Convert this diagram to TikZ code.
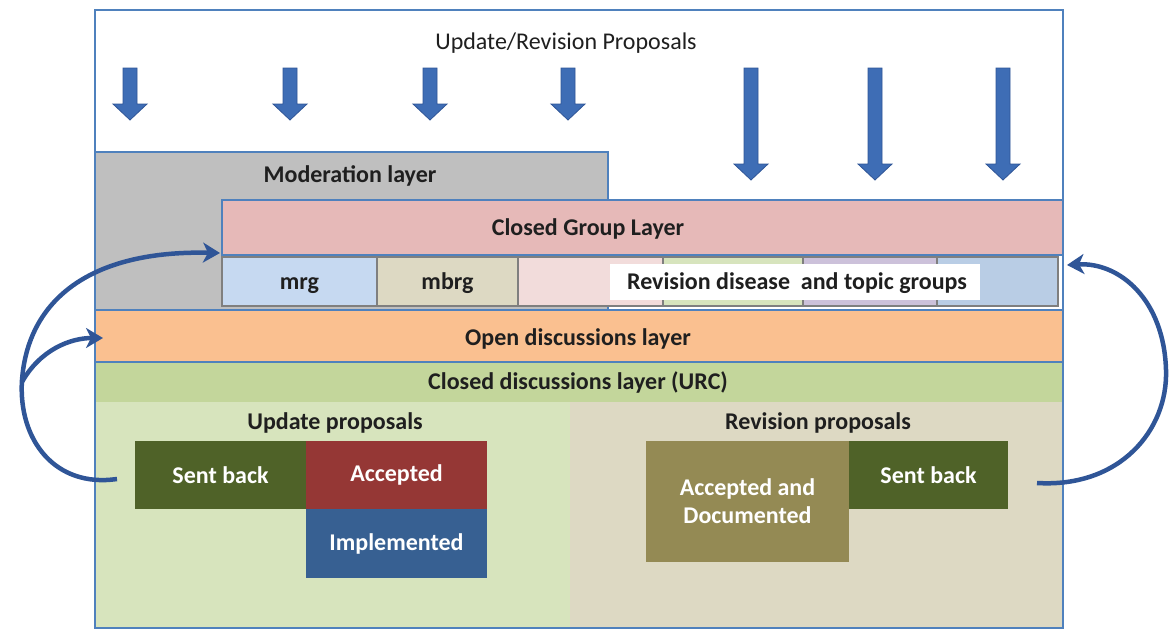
\documentclass[tikz,border=0pt]{standalone}
\usepackage{fontspec}
\setmainfont{Carlito}
\usetikzlibrary{arrows.meta}
\definecolor{bordblue}{HTML}{4F81BD}
\definecolor{arrblue}{HTML}{3E6DB5}
\definecolor{arrdark}{HTML}{2F5597}
\definecolor{modgray}{HTML}{BFBFBF}
\definecolor{cglpink}{HTML}{E6B9B8}
\definecolor{cmrg}{HTML}{C6D9F1}
\definecolor{cmbrg}{HTML}{DDD9C3}
\definecolor{cpinkl}{HTML}{F2DCDB}
\definecolor{cgreenl}{HTML}{D7E4BD}
\definecolor{clav}{HTML}{CCC1DA}
\definecolor{cbluel}{HTML}{B9CDE5}
\definecolor{openor}{HTML}{FAC090}
\definecolor{closedgr}{HTML}{C3D69B}
\definecolor{leftlow}{HTML}{D7E4BD}
\definecolor{rightlow}{HTML}{DDD9C3}
\definecolor{sbgreen}{HTML}{4F6228}
\definecolor{accred}{HTML}{953735}
\definecolor{implblue}{HTML}{376092}
\definecolor{adolive}{HTML}{948A54}
\definecolor{txtdark}{HTML}{1F1F1F}
\definecolor{subgray}{HTML}{7F7F7F}
\tikzset{
  layer/.style={draw=bordblue, line width=1.6pt, inner sep=0pt, outer sep=0pt},
  cell/.style={draw=subgray, line width=1.6pt, inner sep=0pt, outer sep=0pt},
  plain/.style={inner sep=0pt, outer sep=0pt},
  lbl/.style={font=\fontsize{24}{26}\selectfont\bfseries, text=txtdark, inner sep=1pt, text height=0.72em, text depth=0.2em},
  wlbl/.style={font=\fontsize{24}{28}\selectfont\bfseries, text=white, align=center},
  loop/.style={draw=arrdark, line width=4.5pt, -{Stealth[length=17pt,width=20pt,inset=5pt]}},
  blockarrow/.style={fill=arrblue, draw=arrdark, line width=0.8pt},
}
\begin{document}
\begin{tikzpicture}[x=1pt,y=-1pt]
\useasboundingbox (0,0) rectangle (1169,629);
% outer frame
\node[layer, fill=white, minimum width=968pt, minimum height=618pt] (frame) at (579,319) {};
\node[font=\fontsize{24}{26}\selectfont, text=txtdark] (title) at (566,43) {Update/Revision Proposals};
% block arrows
\foreach \x/\b [count=\i] in {130/120,290/120,430/120,568/120,751/180,875/180,1003/180}{
  \path[blockarrow] (\x-7,68) -- (\x+7,68) -- (\x+7,\b-16) -- (\x+17,\b-16) -- (\x,\b) -- (\x-17,\b-16) -- (\x-7,\b-16) -- cycle;
}
% moderation layer
\node[layer, fill=modgray, minimum width=513pt, minimum height=158pt] (mod) at (351.5,231) {};
\node[lbl] (modlbl) at (350,180) {Moderation layer};
% closed group layer
\node[layer, fill=cglpink, minimum width=841pt, minimum height=55pt] (cgl) at (642.5,227.5) {};
\node[lbl] (cgllbl) at (588,233) {Closed Group Layer};
% subgroups
\node[cell, fill=cmrg, minimum width=155pt, minimum height=49pt] (mrg) at (299.5,281.5) {};
\node[cell, fill=cmbrg, minimum width=141pt, minimum height=49pt] (mbrg) at (447.5,281.5) {};
\node[cell, fill=cpinkl, minimum width=145pt, minimum height=49pt] (g3) at (590.5,281.5) {};
\node[cell, fill=cgreenl, minimum width=140pt, minimum height=49pt] (g4) at (733,281.5) {};
\node[cell, fill=clav, minimum width=134pt, minimum height=49pt] (g5) at (870,281.5) {};
\node[cell, fill=cbluel, minimum width=121pt, minimum height=49pt] (g6) at (997.5,281.5) {};
\node[lbl] (mrglbl) at (299.5,287) {mrg};
\node[lbl] (mbrglbl) at (447.5,287) {mbrg};
\node[plain, fill=white, minimum width=370pt, minimum height=36pt] (revbg) at (795,282) {};
\node[lbl] (revlbl) at (797,287) {Revision disease\ \ and topic groups};
% open discussions
\node[layer, fill=openor, minimum width=968pt, minimum height=52pt] (open) at (579,336) {};
\node[lbl] (openlbl) at (578,343) {Open discussions layer};
% closed discussions
\node[plain, fill=leftlow, minimum width=475pt, minimum height=226pt] (leftlow) at (332.5,515) {};
\node[plain, fill=rightlow, minimum width=493pt, minimum height=226pt] (rightlow) at (816.5,515) {};
\node[plain, fill=closedgr, minimum width=968pt, minimum height=40pt] (closed) at (579,382) {};
\draw[bordblue, line width=1.6pt] (closed.north west) -- (closed.north east);
\node[lbl] (closedlbl) at (578,387) {Closed discussions layer (URC)};
\draw[bordblue, line width=1.2pt] (frame.north west) rectangle (frame.south east);
% update proposals
\node[lbl] (uplbl) at (335,427) {Update proposals};
\node[plain, fill=sbgreen, minimum width=171pt, minimum height=68pt, wlbl] (sb1) at (220.5,475) {Sent back};
\node[plain, fill=accred, minimum width=181pt, minimum height=68pt, wlbl] (acc) at (396.5,475) {Accepted};
\node[plain, fill=implblue, minimum width=181pt, minimum height=69pt, wlbl] (impl) at (396.5,543.5) {Implemented};
% revision proposals
\node[lbl] (revplbl) at (818,427) {Revision proposals};
\node[plain, fill=adolive, minimum width=203pt, minimum height=121pt, wlbl] (ad) at (747.5,501.5) {Accepted and\\Documented};
\node[plain, fill=sbgreen, minimum width=159pt, minimum height=68pt, wlbl] (sb2) at (928.5,475) {Sent back};
% loop arrows
\coordinate (lstart) at ([xshift=-18pt,yshift=-4pt]sb1.west);
\coordinate (lsplit) at (22,380);
\coordinate (rstart) at ([xshift=29pt,yshift=-8pt]sb2.east);
\draw[loop] (lstart) .. controls (55,488) and (18,440) .. (lsplit)
  .. controls (28,300) and (90,250) .. ([xshift=-2pt,yshift=2pt]cgl.south west);
\draw[loop] ([yshift=-2pt]lsplit) .. controls (40,350) and (70,338) .. ([xshift=8pt,yshift=-2pt]open.west);
\draw[loop] (rstart) .. controls (1120,488) and (1168,430) .. (1166,370)
  .. controls (1164,300) and (1120,262) .. ([xshift=4pt,yshift=-10pt]cgl.south east);
\end{tikzpicture}
\end{document}
